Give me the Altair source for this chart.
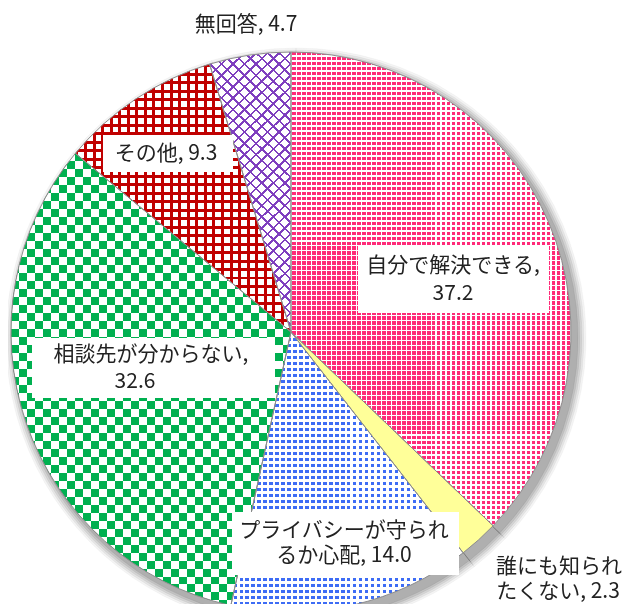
import math
import altair as alt
import pandas as pd

# ---------------- data ----------------
categories = ["自分で解決できる", "誰にも知られたくない", "プライバシーが守られるか心配",
              "相談先が分からない", "その他", "無回答"]
values = [37.2, 2.3, 14.0, 32.6, 9.3, 4.7]
order = [0, 1, 2, 3, 4, 5]

# label text lines (category text split into lines; numbers come from values)
label_lines = [
    ["自分で解決できる,", f"{values[0]}"],
    ["誰にも知られ", f"たくない, {values[1]}"],
    ["プライバシーが守られ", f"るか心配, {values[2]}"],
    ["相談先が分からない,", f"{values[3]}"],
    [f"その他, {values[4]}"],
    [f"無回答, {values[5]}"],
]

# ---------------- layout / style ----------------
CX, CY, R = 283, 324, 280
FONT = "Noto Sans CJK JP"

# line centre positions per label (pixels) and label boxes (x0, y0, x1, y1)
line_pos = [
    [(445, 258), (445, 286)],
    [(551, 559), (550, 584)],
    [(336, 523), (336, 548)],
    [(143, 347), (127, 374)],
    [(158, 146)],
    [(238, 17)],
]
boxes = [
    (350, 238, 541, 305),
    None,
    (224, 504, 451, 567),
    (24, 330, 267, 390),
    (95, 127, 225, 164),
    None,
]
# soft shadow rings: (extra radius, opacity)
shadow_rings = [(10, 0.06), (8, 0.08), (6, 0.10), (4, 0.12), (2, 0.14)]

CLEAR = "rgba(255,255,255,0)"


def stripes(on, off, n, duty):
    stops = []
    i = 0
    while i < n:
        a = i / n
        b = min((i + duty) / n, 1.0)
        c = min((i + 1) / n, 1.0)
        stops += [{"offset": round(a, 5), "color": on},
                  {"offset": round(b, 5), "color": on},
                  {"offset": round(b, 5), "color": off},
                  {"offset": round(c, 5), "color": off}]
        i += 1
    return stops


def vgrad(on, off, w, period, duty):  # vertical stripes (vary along x)
    return {"gradient": "linear", "x1": 0, "y1": 0, "x2": 1, "y2": 0,
            "stops": stripes(on, off, w / period, duty)}


def hgrad(on, off, h, period, duty):  # horizontal stripes (vary along y)
    return {"gradient": "linear", "x1": 0, "y1": 0, "x2": 0, "y2": 1,
            "stops": stripes(on, off, h / period, duty)}


def dgrad(on, off, w, h, period, duty, flip=False):
    k = h / w
    n = w * (1 + k * k) / (math.sqrt(2) * period)
    if flip:
        return {"gradient": "linear", "x1": 1, "y1": 0, "x2": 0, "y2": k,
                "stops": stripes(on, off, n, duty)}
    return {"gradient": "linear", "x1": 0, "y1": 0, "x2": 1, "y2": k,
            "stops": stripes(on, off, n, duty)}


df = pd.DataFrame({"category": categories, "value": values, "order": order})

base = (
    alt.Chart(df)
    .transform_window(cum="sum(value)", sort=[alt.SortField("order")], frame=[None, 0])
    .transform_joinaggregate(total="sum(value)")
    .transform_calculate(
        a0="2*PI*(datum.cum-datum.value)/datum.total",
        a1="2*PI*datum.cum/datum.total",
    )
)

THETA = dict(theta=alt.Theta("a0:Q", scale=None), theta2="a1:Q")


def arc(cat, **props):
    return (
        base.transform_filter(alt.datum.category == cat)
        .mark_arc(radius=R, strokeWidth=0, **props)
        .encode(x=alt.value(CX), y=alt.value(CY), **THETA)
    )


layers = []

# drop shadow (stacked translucent discs, drawn from the same slices)
for extra, op in shadow_rings:
    layers.append(
        base.mark_arc(radius=R + extra, fill="#404040", fillOpacity=op,
                      stroke="#404040", strokeOpacity=op, strokeWidth=0.6)
        .encode(x=alt.value(CX + 5), y=alt.value(CY + 6), **THETA)
    )

# pink: dense dot lattice
PINK = "#FF2A78"
layers.append(arc(categories[0], fill=hgrad(PINK, "#FFFFFF", 475, 5, 0.7)))
layers.append(arc(categories[0], fill=vgrad("#FFFFFF", CLEAR, 281, 5, 0.3)))

# yellow: solid
layers.append(arc(categories[1], fill="#FFFF99"))

# blue: small squares
BLUE = "#3D6CF5"
layers.append(arc(categories[2], fill=hgrad(BLUE, "#FFFFFF", 280, 6, 0.55)))
layers.append(arc(categories[2], fill=vgrad("#FFFFFF", CLEAR, 233, 6, 0.45)))

# green: checkerboard via difference + screen blending
GREEN = "#00B050"
layers.append(arc(categories[3], fill=vgrad("#000000", "#FFFFFF", 280, 16, 0.5)))
layers.append(arc(categories[3], fill=hgrad("#000000", "#FFFFFF", 453, 16, 0.5), blend="difference"))
layers.append(arc(categories[3], fill=GREEN, blend="screen"))

# red: grid
RED = "#C00000"
layers.append(arc(categories[4], fill=vgrad(RED, "#FFFFFF", 214, 8.5, 0.35)))
layers.append(arc(categories[4], fill=hgrad(RED, CLEAR, 268, 8.5, 0.35)))

# purple: diagonal lattice
PURPLE = "#7F3FBF"
layers.append(arc(categories[5], fill=dgrad(PURPLE, "#FFFFFF", 80, 280, 8, 0.22)))
layers.append(arc(categories[5], fill=dgrad(PURPLE, CLEAR, 80, 280, 8, 0.22, flip=True)))

# slice outlines
layers.append(
    base.mark_arc(radius=R, fillOpacity=0, stroke="#8c8c8c", strokeWidth=1)
    .encode(x=alt.value(CX), y=alt.value(CY), **THETA)
)

# label boxes
box_rows = [{"x0": b[0], "y0": b[1], "x1": b[2], "y1": b[3]} for b in boxes if b]
layers.append(
    alt.Chart(pd.DataFrame(box_rows))
    .mark_rect(fill="white", strokeWidth=0)
    .encode(x=alt.X("x0:Q", scale=None, axis=None), x2="x1:Q",
            y=alt.Y("y0:Q", scale=None, axis=None), y2="y1:Q")
)

# label text
text_rows = []
for lines, poss in zip(label_lines, line_pos):
    for t, (x, y) in zip(lines, poss):
        text_rows.append({"t": t, "x": x, "y": y})
layers.append(
    alt.Chart(pd.DataFrame(text_rows))
    .mark_text(font=FONT, fontSize=21, color="#222222", align="center", baseline="middle")
    .encode(x=alt.X("x:Q", scale=None, axis=None), y=alt.Y("y:Q", scale=None, axis=None),
            text="t:N")
)

chart = (
    alt.layer(*layers)
    .resolve_scale(x="independent", y="independent")
    .properties(width=617, height=596, padding=0, autosize="none")
    .configure_view(stroke=None)
)

chart.save("out.html", embed_options={"renderer": "svg", "actions": False})
